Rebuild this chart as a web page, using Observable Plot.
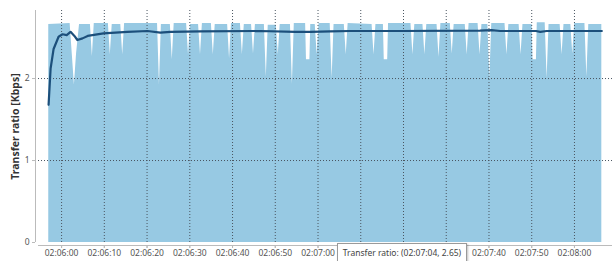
<!DOCTYPE html>
<html>
<head>
<meta charset="utf-8">
<script src="https://cdn.jsdelivr.net/npm/d3@7"></script>
<script src="https://cdn.jsdelivr.net/npm/@observablehq/plot@0.6"></script>
<style>
  html, body { margin: 0; padding: 0; background: #fff; }
  #wrap { position: relative; width: 613px; height: 261px; overflow: hidden; }
  #tip { position: absolute; left: 337px; top: 243px; width: 128px; height: 17px;
         border: 1px solid #9a9a9a; background: #fff; box-shadow: 1px 1px 2px rgba(0,0,0,0.25);
         font: 8.5px "Noto Sans", sans-serif; color: #444; line-height: 17px; text-align: center; white-space: nowrap; }
</style>
</head>
<body>
<div id="wrap">
  <div id="chart"></div>
  <div id="tip"></div>
</div>
<script>
// Tick labels
const xTickLabels = ["02:06:00","02:06:10","02:06:20","02:06:30","02:06:40","02:06:50","02:07:00",
                     "02:07:10","02:07:20","02:07:30","02:07:40","02:07:50","02:08:00"];
// tick labels hidden behind the hover tooltip in the reference
const xTickLabelsCovered = ["02:07:10","02:07:20","02:07:30"];
const yTickValues = [0, 1, 2];
const yTitle = "Transfer ratio [Kbps]";
const tooltipText = "Transfer ratio: (02:07:04, 2.65)";

// Instantaneous transfer ratio (area): [seconds after 02:06:00, Kbps]
const ratioPoints = [
  [-3.0,2.66],[2.0,2.67],[2.5,2.3],[3.0,1.92],[3.5,2.3],[4.2,2.66],
  [6.75,2.66],[7.2,2.27],[7.65,2.67],
  [10.95,2.67],[11.4,2.29],[11.85,2.66],
  [13.85,2.66],[14.3,2.29],[14.75,2.67],
  [22.45,2.67],[22.9,1.92],[23.35,2.66],
  [25.45,2.66],[25.9,2.23],[26.35,2.67],
  [29.25,2.67],[29.7,2.29],[30.15,2.66],
  [32.05,2.66],[32.5,2.29],[32.95,2.67],
  [35.05,2.67],[35.5,2.29],[35.95,2.66],
  [38.85,2.66],[39.3,2.24],[39.75,2.67],
  [41.85,2.67],[42.3,2.29],[42.75,2.66],
  [44.45,2.66],[44.9,2.30],[45.35,2.66],
  [47.45,2.66],[47.9,2.02],[48.35,2.65],
  [50.25,2.65],[50.7,2.29],[51.15,2.66],
  [53.55,2.66],[54.0,1.93],[54.45,2.67],
  [57.1,2.67],[57.3,2.23],[58.1,2.23],[58.3,2.66],
  [59.35,2.66],[59.8,2.29],[60.25,2.67],
  [62.85,2.67],[63.3,2.00],[63.75,2.66],
  [66.15,2.66],[66.6,2.29],[67.05,2.67],
  [72.65,2.66],[73.1,2.29],[73.55,2.66],
  [75.3,2.66],[75.5,2.23],[76.3,2.23],[76.5,2.67],
  [81.75,2.67],[82.2,2.29],[82.65,2.66],
  [84.55,2.66],[85.0,2.29],[85.45,2.66],
  [87.85,2.66],[88.3,2.26],[88.75,2.67],
  [90.95,2.67],[91.4,2.30],[91.85,2.66],
  [94.45,2.66],[94.9,2.29],[95.35,2.67],
  [97.45,2.67],[97.9,2.29],[98.35,2.66],
  [99.75,2.66],[100.2,2.00],[100.65,2.67],
  [103.75,2.67],[104.2,2.29],[104.65,2.66],
  [107.05,2.66],[107.5,2.29],[107.95,2.66],
  [110.1,2.66],[110.3,2.23],[111.1,2.23],[111.3,2.68],
  [113.15,2.68],[113.6,2.00],[114.05,2.66],
  [116.65,2.66],[117.1,2.29],[117.55,2.66],
  [119.15,2.66],[119.6,2.30],[120.05,2.67],
  [122.45,2.67],[122.9,2.02],[123.35,2.66],
  [126.4,2.66]
];

// Average transfer ratio (line): [seconds after 02:06:00, Kbps]
const averagePoints = [
  [-3.04,1.68],[-2.57,2.12],[-1.87,2.36],[-0.7,2.51],[0.23,2.54],[1.2,2.53],
  [2.1,2.57],[3.0,2.52],[3.7,2.47],[4.9,2.49],[6.1,2.52],[9.8,2.55],
  [15.4,2.57],[20.1,2.58],[23.1,2.56],[25.5,2.57],[32.5,2.575],[46.5,2.58],
  [54.7,2.57],[58.2,2.57],[62.9,2.575],[67.5,2.58],[79.2,2.58],[97.9,2.585],
  [100.6,2.59],[102.6,2.58],[111.0,2.58],[112.0,2.57],[113.5,2.58],
  [116.6,2.58],[126.4,2.58]
];

document.getElementById("tip").textContent = tooltipText;

const parseT = d3.utcParse("%H:%M:%S");
const base = parseT("02:06:00").getTime();
const at = s => new Date(base + s * 1000);
const xTicks = xTickLabels.map(parseT);
const xLabelTicks = xTickLabels.filter(l => !xTickLabelsCovered.includes(l)).map(parseT);
const xMin = at(-5.4), xMax = at(128.9);

const chart = Plot.plot({
  width: 613,
  height: 261,
  marginLeft: 38,
  marginRight: 1,
  marginTop: 10,
  marginBottom: 19,
  style: { fontFamily: "Noto Sans, sans-serif", fontSize: "8.5px", color: "#555", background: "#fff" },
  x: { type: "utc", domain: [xMin, xMax] },
  y: { domain: [0, 2.83] },
  marks: [
    Plot.areaY(ratioPoints, { x: d => at(d[0]), y: d => d[1], fill: "#97c9e3" }),
    Plot.ruleX(xTicks, { stroke: "#4a5560", strokeDasharray: "1,2", strokeWidth: 1 }),
    Plot.ruleY([1, 2], { stroke: "#4a5560", strokeDasharray: "1,2", strokeWidth: 1 }),
    Plot.line(averagePoints, { x: d => at(d[0]), y: d => d[1], stroke: "#1c4f7b", strokeWidth: 2.2 }),
    Plot.ruleX([xMin], { stroke: "#bbb", dx: -3 }),
    Plot.ruleY([0], { stroke: "#bbb", dy: 3 }),
    Plot.axisY(yTickValues, { tickSize: 3, tickPadding: 3, dx: -3, label: null, stroke: "#bbb", fill: "#555",
                              tickFormat: d3.format("d") }),
    Plot.axisX(xTicks, { tickSize: 3, dy: 3, label: null, stroke: "#bbb", text: null }),
    Plot.axisX(xLabelTicks, { tickSize: 3, tickPadding: 1, dy: 3, label: null, stroke: "#bbb", fill: "#555",
                              tickFormat: d3.utcFormat("%H:%M:%S") }),
    Plot.text([yTitle], { frameAnchor: "left", textAnchor: "middle", dx: -23, rotate: -90,
                          fontWeight: "bold", fontSize: 10.5, fill: "#333" })
  ]
});
document.getElementById("chart").appendChild(chart);
</script>
</body>
</html>
